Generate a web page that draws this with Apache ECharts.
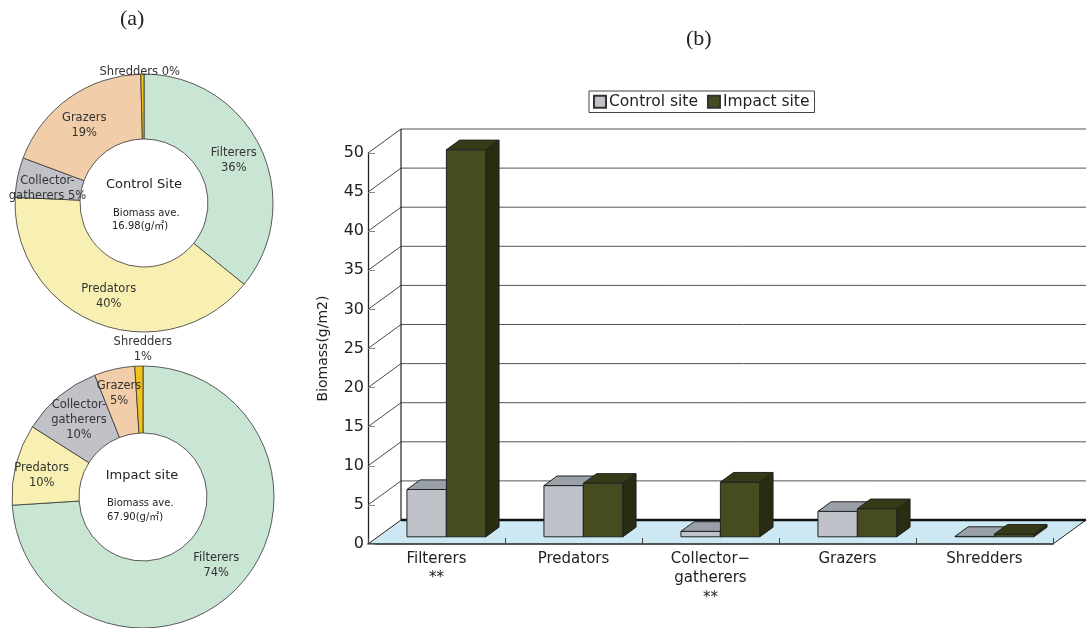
<!DOCTYPE html>
<html>
<head>
<meta charset="utf-8">
<script src="https://cdn.jsdelivr.net/npm/echarts@6/dist/echarts.min.js"></script>
<style>
  html, body { margin: 0; padding: 0; background: #fff; }
  #chart { width: 1086px; height: 628px; }
</style>
</head>
<body>
<div id="chart"></div>
<script>
// ---- data ----
const groups = ['Filterers', 'Predators', 'Collector-gatherers', 'Grazers', 'Shredders'];
const categoryLabels = ['Filterers\n**', 'Predators', 'Collector−\ngatherers\n**', 'Grazers', 'Shredders'];
const controlBiomass = [6.05, 6.55, 0.7, 3.25, 0.05];   // g/m2
const impactBiomass  = [49.5, 6.85, 7.0, 3.6, 0.35];    // g/m2
const yTickValues = [0, 5, 10, 15, 20, 25, 30, 35, 40, 45, 50];

// composition shares (%) for the two donuts
const controlShare = [36, 40, 5, 19, 0.4];
const impactShare  = [74, 10, 10, 5, 1];
const controlPieText = ['Filterers\n', 'Predators\n', 'Collector-\ngatherers ', 'Grazers\n', 'Shredders '];
const impactPieText  = ['Filterers\n', 'Predators\n', 'Collector-\ngatherers\n', 'Grazers\n', 'Shredders\n'];
const controlAverage = '16.98(g/㎡)';
const impactAverage  = '67.90(g/㎡)';

// ---- styling ----
const FONT = '"DejaVu Sans", "Noto Sans CJK JP", sans-serif';
const pieColors = ['#c9e5d3', '#f8f0b2', '#c0c2c8', '#f1cda9', '#f2c21c'];
const DEPTH_X = 33, DEPTH_Y = -24;     // oblique depth of the box
const FRONT_T = 0.3, BACK_T = 0.7;     // bar slab position inside the depth
const BAR_FRACTION = 0.288;
const barStyles = [
  { front: '#c0c2ca', top: '#99a0a8', side: '#868b93' },
  { front: '#474c20', top: '#363b17', side: '#292c10' }
];

const chart = echarts.init(document.getElementById('chart'));

function wallRender(params, api) {
  const cs = params.coordSys;
  const x0 = cs.x, x1 = cs.x + cs.width, yb = cs.y + cs.height;
  const ch = [];
  ch.push({ type: 'polygon', shape: { points: [[x0, yb], [x1, yb], [x1 + DEPTH_X, yb + DEPTH_Y], [x0 + DEPTH_X, yb + DEPTH_Y]] },
            style: { fill: '#cbe8f3' } });
  yTickValues.forEach(v => {
    if (v === 0) return;
    const y = api.coord([0, v])[1];
    ch.push({ type: 'line', shape: { x1: x0, y1: y, x2: x0 + DEPTH_X, y2: y + DEPTH_Y }, style: { stroke: '#333', lineWidth: 0.9 } });
    ch.push({ type: 'line', shape: { x1: x0 + DEPTH_X, y1: y + DEPTH_Y, x2: x1 + DEPTH_X, y2: y + DEPTH_Y }, style: { stroke: '#555', lineWidth: 1 } });
  });
  const yTop = api.coord([0, yTickValues[yTickValues.length - 1]])[1];
  ch.push({ type: 'line', shape: { x1: x0 + DEPTH_X, y1: yTop + DEPTH_Y, x2: x0 + DEPTH_X, y2: yb + DEPTH_Y }, style: { stroke: '#222', lineWidth: 1.2 } });
  ch.push({ type: 'line', shape: { x1: x0, y1: yb, x2: x0 + DEPTH_X, y2: yb + DEPTH_Y }, style: { stroke: '#222', lineWidth: 1 } });
  ch.push({ type: 'line', shape: { x1: x1, y1: yb, x2: x1 + DEPTH_X, y2: yb + DEPTH_Y }, style: { stroke: '#222', lineWidth: 1 } });
  ch.push({ type: 'line', shape: { x1: x0 + DEPTH_X, y1: yb + DEPTH_Y, x2: x1 + DEPTH_X, y2: yb + DEPTH_Y }, style: { stroke: '#111', lineWidth: 2.6 } });
  return { type: 'group', children: ch };
}

function barRender(sideIndex) {
  return function (params, api) {
    const idx = api.value(0), val = api.value(1);
    const c = api.coord([idx, val]);
    const b = api.coord([idx, 0]);
    const w = api.size([1, 0])[0] * BAR_FRACTION;
    const fx = DEPTH_X * FRONT_T, fy = DEPTH_Y * FRONT_T;
    const ddx = DEPTH_X * (BACK_T - FRONT_T), ddy = DEPTH_Y * (BACK_T - FRONT_T);
    const xl = c[0] + (sideIndex === 0 ? -w : 0) + fx;
    const xr = xl + w;
    const yt = c[1] + fy, ybt = b[1] + fy;
    const st = barStyles[sideIndex];
    const stroke = { stroke: '#222', lineWidth: 1, lineJoin: 'round' };
    return {
      type: 'group',
      children: [
        { type: 'polygon', shape: { points: [[xl, yt], [xr, yt], [xr, ybt], [xl, ybt]] }, style: Object.assign({ fill: st.front }, stroke) },
        { type: 'polygon', shape: { points: [[xl, yt], [xr, yt], [xr + ddx, yt + ddy], [xl + ddx, yt + ddy]] }, style: Object.assign({ fill: st.top }, stroke) },
        { type: 'polygon', shape: { points: [[xr, yt], [xr + ddx, yt + ddy], [xr + ddx, ybt + ddy], [xr, ybt]] }, style: Object.assign({ fill: st.side }, stroke) }
      ]
    };
  };
}

function pieSeries(name, shares, texts, center, radius, nudges) {
  return {
    type: 'pie',
    name: name,
    center: center,
    radius: radius,
    startAngle: 90,
    clockwise: true,
    percentPrecision: 0,
    silent: true,
    animation: false,
    itemStyle: { borderColor: '#333', borderWidth: 0.8 },
    label: {
      show: true,
      position: 'inside',
      fontFamily: FONT,
      fontSize: 11.5,
      lineHeight: 15,
      color: '#333',
      align: 'center',
      formatter: p => texts[p.dataIndex] + p.percent + '%'
    },
    labelLine: { show: false },
    labelLayout: p => nudges[p.dataIndex] || {},
    data: shares.map((v, i) => ({ name: groups[i], value: v, itemStyle: { color: pieColors[i] } }))
  };
}

const option = {
  backgroundColor: '#fff',
  animation: false,
  textStyle: { fontFamily: FONT },
  legend: {
    left: 589, top: 91,
    orient: 'horizontal',
    itemWidth: 12, itemHeight: 12, itemGap: 9,
    icon: 'rect',
    padding: [3, 5, 3, 4],
    borderColor: '#444', borderWidth: 1,
    textStyle: { fontSize: 15.5, color: '#222', fontFamily: FONT, padding: [0, 0, 0, -2] },
    data: ['Control site', 'Impact site']
  },
  grid: { left: 368, right: 33, top: 153, bottom: 84 },
  xAxis: {
    type: 'category',
    data: categoryLabels,
    z: 10,
    axisLine: { lineStyle: { color: '#222', width: 1.5 } },
    axisTick: { show: true, inside: true, length: 6, lineStyle: { color: '#444' } },
    axisLabel: { fontSize: 15, color: '#222', lineHeight: 19.5, margin: 5, fontFamily: FONT },
    splitLine: { show: false }
  },
  yAxis: {
    type: 'value',
    min: 0, max: 50, interval: 5,
    z: 10,
    name: 'Biomass(g/m2)',
    nameLocation: 'middle',
    nameGap: 38,
    nameRotate: 90,
    nameTextStyle: { fontSize: 14, color: '#222', fontFamily: FONT },
    axisLine: { show: true, lineStyle: { color: '#222', width: 1.3 } },
    axisTick: { show: true, inside: true, length: 7, lineStyle: { color: '#888' } },
    axisLabel: { fontSize: 16, color: '#222', margin: 4, fontFamily: FONT },
    splitLine: { show: false }
  },
  graphic: [
    { type: 'text', left: 120, top: 8, style: { text: '(a)', font: '22px "Liberation Serif", serif', fill: '#222' } },
    { type: 'text', left: 686, top: 28, style: { text: '(b)', font: '22px "Liberation Serif", serif', fill: '#222' } },
    { type: 'text', x: 144, y: 185, style: { text: 'Control Site', font: '13px ' + FONT, fill: '#222', align: 'center', verticalAlign: 'middle' } },
    { type: 'text', x: 113, y: 213, style: { text: 'Biomass ave.', font: '10px ' + FONT, fill: '#222', verticalAlign: 'middle' } },
    { type: 'text', x: 112, y: 226, style: { text: controlAverage, font: '10px ' + FONT, fill: '#222', verticalAlign: 'middle' } },
    { type: 'text', x: 142, y: 476, style: { text: 'Impact site', font: '13px ' + FONT, fill: '#222', align: 'center', verticalAlign: 'middle' } },
    { type: 'text', x: 107, y: 503, style: { text: 'Biomass ave.', font: '10px ' + FONT, fill: '#222', verticalAlign: 'middle' } },
    { type: 'text', x: 107, y: 517, style: { text: impactAverage, font: '10px ' + FONT, fill: '#222', verticalAlign: 'middle' } }
  ],
  series: [
    pieSeries('Control', controlShare, controlPieText, [144, 203], [64, 129],
      { 2: { dx: 1, dy: 5 }, 3: { dx: -2, dy: 4 }, 4: { dx: -3, dy: -31 } }),
    pieSeries('Impact', impactShare, impactPieText, [143, 497], [64, 131],
      { 1: { dx: -4, dy: 4 }, 3: { dx: -2, dy: -5 }, 4: { dx: 3, dy: -47 } }),
    {
      type: 'custom',
      name: 'wall',
      silent: true,
      z: 1,
      renderItem: wallRender,
      encode: { x: 0, y: 1 },
      data: [[0, 0]]
    },
    {
      type: 'custom',
      name: 'Control site',
      z: 3,
      itemStyle: { color: barStyles[0].front, borderColor: '#333', borderWidth: 1 },
      renderItem: barRender(0),
      encode: { x: 0, y: 1 },
      data: controlBiomass.map((v, i) => [i, v])
    },
    {
      type: 'custom',
      name: 'Impact site',
      z: 4,
      itemStyle: { color: barStyles[1].front, borderColor: '#333', borderWidth: 1 },
      renderItem: barRender(1),
      encode: { x: 0, y: 1 },
      data: impactBiomass.map((v, i) => [i, v])
    }
  ]
};

chart.setOption(option);
</script>
</body>
</html>
